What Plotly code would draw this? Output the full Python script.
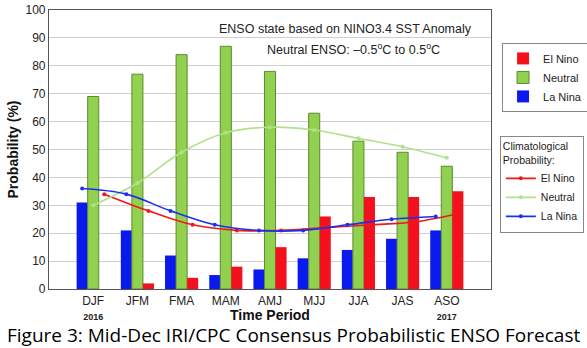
import numpy as np
import plotly.graph_objects as go

periods = ["DJF", "JFM", "FMA", "MAM", "AMJ", "MJJ", "JJA", "JAS", "ASO"]
year_labels = ["2016", "", "", "", "", "", "", "", "2017"]
el_nino = [0, 2, 4, 8, 15, 26, 33, 33, 35]
neutral = [69, 77, 84, 87, 78, 63, 53, 49, 44]
la_nina = [31, 21, 12, 5, 7, 11, 14, 18, 21]
clim_el_nino = [34, 28, 23, 21, 21, 22, 23, 24, 27]
clim_neutral = [30, 38, 49, 56, 58, 57, 54, 51, 47]
clim_la_nina = [36, 34, 28, 23, 21, 21, 23, 25, 26]

RED = "#f5101e"
GREEN = "#92d050"
BLUE = "#0a1aef"
BAR_W = 0.25

idx = np.arange(len(periods))
ticktext = [p + ("<br><span style='font-size:9px'><b>" + y + "</b></span>" if y else "")
            for p, y in zip(periods, year_labels)]

fig = go.Figure()
fig.add_trace(go.Bar(x=idx, y=la_nina, name="La Nina", marker=dict(color=BLUE, line=dict(width=0)),
                     legend="legend", legendrank=3))
fig.add_trace(go.Bar(x=idx, y=neutral, name="Neutral", marker=dict(color=GREEN, line=dict(color="#5a8a30", width=1)),
                     legend="legend", legendrank=2))
fig.add_trace(go.Bar(x=idx, y=el_nino, name="El Nino", marker=dict(color=RED, line=dict(width=0)),
                     legend="legend", legendrank=1))

for vals, off, col, nm, rk in [(clim_el_nino, BAR_W, "#f01818", "El Nino", 4),
                               (clim_neutral, 0, "#aee38a", "Neutral", 5),
                               (clim_la_nina, -BAR_W, "#1a30f0", "La Nina", 6)]:
    fig.add_trace(go.Scatter(x=idx + off, y=vals, mode="lines+markers", name=nm,
                             line=dict(color=col, width=1.6, shape="spline"),
                             marker=dict(size=4, color=col),
                             legend="legend2", legendrank=rk))

fig.update_layout(
    width=587, height=348,
    margin=dict(l=49, r=96, t=10, b=59, autoexpand=False),
    paper_bgcolor="white", plot_bgcolor="white",
    barmode="group", bargap=0.25, bargroupgap=0,
    font=dict(family="Liberation Sans, Arial", size=12, color="#222"),
    xaxis=dict(range=[-1, 9], tickmode="array", tickvals=idx, ticktext=ticktext, automargin=False,
               showgrid=False, showline=True, linecolor="#555", linewidth=1.2, mirror=True,
               ticks="", tickfont=dict(size=12)),
    yaxis=dict(range=[0, 100], dtick=10, showgrid=True, gridcolor="#cfcfcf", gridwidth=1, automargin=False,
               showline=True, linecolor="#555", linewidth=1.2, mirror=True, zeroline=False,
               ticks="", tickfont=dict(size=12),
               title=dict(text="<b>Probability (%)</b>", font=dict(size=14, color="#111"), standoff=3)),
    legend=dict(x=1.025, y=0.882, xanchor="left", yanchor="top", bgcolor="white", itemwidth=30,
                bordercolor="#888", borderwidth=1, font=dict(size=11), traceorder="normal"),
    legend2=dict(x=1.02, y=0.55, xanchor="left", yanchor="top", bgcolor="white", itemwidth=30,
                 bordercolor="#888", borderwidth=1, font=dict(size=10.5), traceorder="normal",
                 title=dict(text="Climatological<br>Probability:", font=dict(size=10.5))),
    annotations=[
        dict(text="ENSO state based on NINO3.4 SST Anomaly", x=345, y=29,
             showarrow=False, font=dict(size=12.5)),
        dict(text="Neutral ENSO: \u20130.5<sup>o</sup>C to 0.5<sup>o</sup>C", x=353, y=49,
             showarrow=False, font=dict(size=12.5)),
        dict(text="<b>Time Period</b>", x=270, y=315,
             showarrow=False, font=dict(size=14, color="#111")),
        dict(text="Figure 3: Mid-Dec IRI/CPC Consensus Probabilistic ENSO Forecast", x=293, y=335,
             showarrow=False, font=dict(family="Open Sans", size=19, color="#000")),
    ],
)

# convert pixel-placed annotations into paper coordinates
pw, ph = 587 - 49 - 96, 348 - 10 - 59
new_ann = []
for a in fig.layout.annotations:
    px, py = a.x, a.y
    a.update(xref="paper", yref="paper", x=(px - 49) / pw, y=(348 - 59 - py) / ph,
             xanchor="center", yanchor="middle")
    new_ann.append(a)
fig.layout.annotations = new_ann

fig.write_html("out.html")
